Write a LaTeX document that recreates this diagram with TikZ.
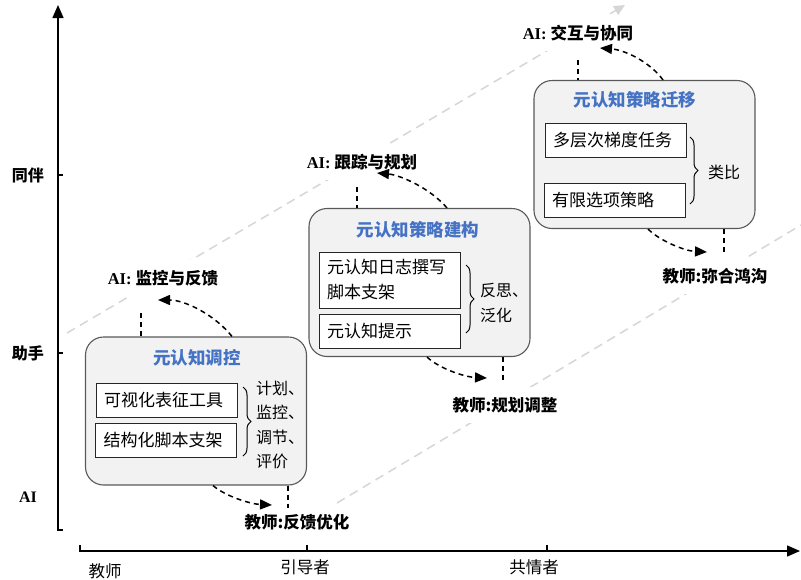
\documentclass[tikz,border=0pt]{standalone}
\usepackage{fontspec}
\setmainfont{Liberation Serif}
\newfontfamily\cjk{Noto Sans CJK SC}
\usetikzlibrary{arrows.meta,calc,decorations.pathreplacing}
\definecolor{boxfill}{HTML}{F2F2F2}
\definecolor{boxline}{HTML}{595959}
\definecolor{tblue}{HTML}{4472C4}
\definecolor{guide}{HTML}{D6D6D6}
\begin{document}
\begin{tikzpicture}[x=1pt,y=-1pt,
  bigbox/.style={draw=boxline, fill=boxfill, line width=1.1pt, rounded corners=18pt, minimum width=221pt, minimum height=148pt},
  inbox/.style={draw=black!85, fill=white, line width=0.9pt, font=\cjk\fontsize{17}{25}\selectfont, minimum width=141pt, minimum height=34pt, text width=125pt, align=left, inner xsep=8pt, inner ysep=0pt},
  ttl/.style={font=\cjk\bfseries\fontsize{17.5}{20}\selectfont, text=tblue},
  side/.style={font=\cjk\fontsize{16}{24.5}\selectfont, align=left, inner sep=0pt},
  lab/.style={fill=white, inner sep=10pt, font=\fontsize{16.5}{19}\selectfont},
  axl/.style={font=\cjk\bfseries\fontsize{16}{19}\selectfont},
  axb/.style={font=\cjk\fontsize{16.5}{19}\selectfont},
  conn/.style={line width=1.5pt, dash pattern=on 5pt off 4pt, -{Triangle[length=12pt,width=10pt]}},
  vdash/.style={line width=1.5pt, dash pattern=on 5pt off 4pt},
  guideline/.style={draw=guide, line width=1.5pt, dash pattern=on 9pt off 6pt},
  axis/.style={line width=1.5pt, -{Triangle[length=13pt,width=11pt]}},
  tick/.style={line width=1.5pt},
  brc/.style={line width=1pt, decorate, decoration={brace, amplitude=8pt}}
]
\useasboundingbox (0,0) rectangle (801,579);

% axes
\draw[axis] (63,530) -- (58,530) -- (58,5);
\draw[tick] (58,175) -- (63,175);
\draw[tick] (58,353) -- (63,353);
\draw[axis] (80,545) -- (80,551) -- (800,551);
\draw[tick] (307,551) -- (307,545);
\draw[tick] (547,551) -- (547,545);

\node[axl] (ya) at (28,175) {同伴};
\node[axl] (yb) at (28,353) {助手};
\node[font=\bfseries\fontsize{16}{19}\selectfont] (yc) at (28,497) {AI};
\node[axb] (xa) at (105,571) {教师};
\node[axb] (xb) at (305,567) {引导者};
\node[axb] (xc) at (534,567) {共情者};

% guide lines
\draw[guideline, -{Triangle[length=11pt,width=10pt]}] (67,333) -- (625,5);
\draw[guideline] (337,503) -- (801,225);

% labels
\node[lab] (a1) at (163,278) {\textbf{AI:} {\cjk\bfseries 监控与反馈}};
\node[lab] (e1) at (297,522) {\cjk\bfseries 教师:反馈优化};
\node[lab] (a2) at (362,162) {\textbf{AI:} {\cjk\bfseries 跟踪与规划}};
\node[lab] (e2) at (505,405) {\cjk\bfseries 教师:规划调整};
\node[lab] (a3) at (578,33) {\textbf{AI:} {\cjk\bfseries 交互与协同}};
\node[lab] (e3) at (715,276) {\cjk\bfseries 教师:弥合鸿沟};

% boxes
\node[bigbox] (b1) at (196,411) {};
\node[bigbox] (b2) at (419.5,282.5) {};
\node[bigbox] (b3) at (644.5,154.5) {};

\node[ttl] (t1) at (197,358) {元认知调控};
\node[ttl] (t2) at (418,230) {元认知策略建构};
\node[ttl] (t3) at (635,100) {元认知策略迁移};

\node[inbox] (i1a) at (166.5,400) {可视化表征工具};
\node[inbox] (i1b) at (166,440) {结构化脚本支架};
\node[inbox, minimum height=56pt] (i2a) at (389.5,280) {元认知日志撰写\\脚本支架};
\node[inbox] (i2b) at (389.5,331) {元认知提示};
\node[inbox] (i3a) at (615.5,140) {多层次梯度任务};
\node[inbox] (i3b) at (614.5,200) {有限选项策略};

\draw[brc] (243,387) -- (243,456);
\draw[brc] (466,265) -- (466,333);
\draw[brc] (690,137) -- (690,204);

\node[side] (s1) at (280,425) {计划、\\监控、\\调节、\\评价};
\node[side] (s2) at (504,303) {反思、\\泛化};
\node[side] (s3) at (724,172) {类比};

% connector end points
\coordinate (a1tip) at (158,300);
\coordinate (a1foot) at (141,313);
\coordinate (e1tip) at (272,505);
\coordinate (e1foot) at (288,508);
\coordinate (a2tip) at (377,173);
\coordinate (a2foot) at (357,187);
\coordinate (e2tip) at (487,378);
\coordinate (e2foot) at (503,380);
\coordinate (a3tip) at (600,48);
\coordinate (a3foot) at (578,60);
\coordinate (e3tip) at (707,252);
\coordinate (e3foot) at (724,252);

% box 1
\draw[conn] ($(b1.north)+(36,0)$) .. controls (215,315) and (185,300) .. (a1tip);
\draw[vdash] (a1foot) -- (a1foot |- b1.north);
\draw[conn] ($(b1.south)+(17,0)$) .. controls (225,496) and (250,504) .. (e1tip);
\draw[vdash] (e1foot |- b1.south) -- (e1foot);
% box 2
\draw[conn] ($(b2.north)+(27.5,0)$) .. controls (430,188) and (400,175) .. (a2tip);
\draw[vdash] (a2foot) -- (a2foot |- b2.north);
\draw[conn] ($(b2.south)+(7.5,0)$) .. controls (440,369) and (465,377) .. (e2tip);
\draw[vdash] (e2foot |- b2.south) -- (e2foot);
% box 3
\draw[conn] ($(b3.north)+(18.5,0)$) .. controls (650,62) and (625,50) .. (a3tip);
\draw[vdash] (a3foot) -- (a3foot |- b3.north);
\draw[conn] ($(b3.south)+(3.5,0)$) .. controls (660,241) and (685,251) .. (e3tip);
\draw[vdash] (e3foot |- b3.south) -- (e3foot);
\end{tikzpicture}
\end{document}
